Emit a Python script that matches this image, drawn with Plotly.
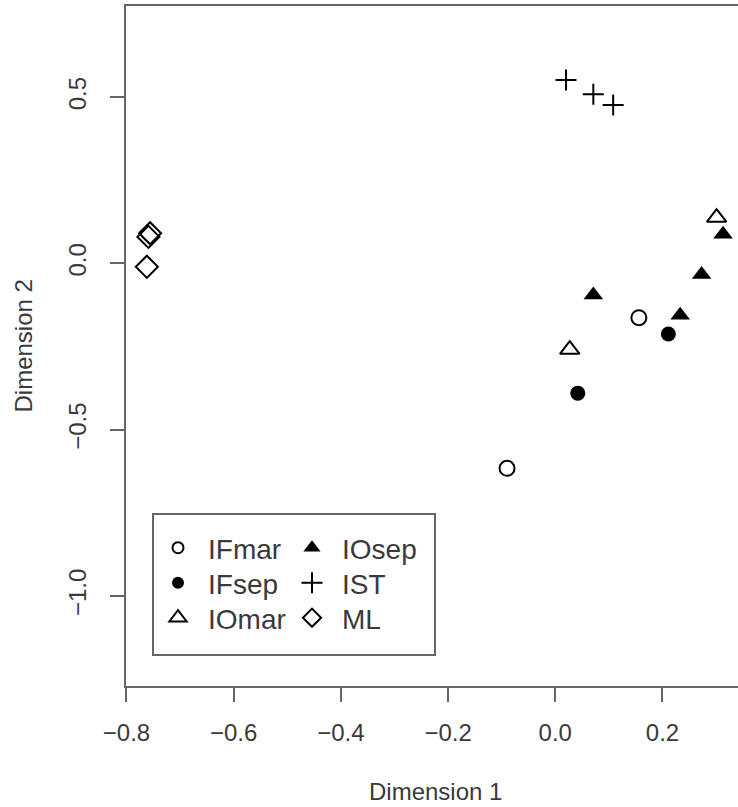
import plotly.graph_objects as go

# MDS ordination coordinates per group
groups = ["IFmar", "IFsep", "IOmar", "IOsep", "IST", "ML"]

ifmar_x = [0.156, -0.090]
ifmar_y = [-0.163, -0.616]

ifsep_x = [0.211, 0.042]
ifsep_y = [-0.212, -0.390]

iomar_x = [0.301, 0.027]
iomar_y = [0.138, -0.259]

iosep_x = [0.313, 0.273, 0.071, 0.233]
iosep_y = [0.088, -0.033, -0.095, -0.156]

ist_x = [0.020, 0.071, 0.108]
ist_y = [0.552, 0.509, 0.477]

ml_x = [-0.756, -0.759, -0.762]
ml_y = [0.091, 0.080, -0.010]

x_ticks = [-0.8, -0.6, -0.4, -0.2, 0.0, 0.2]
x_ticktext = ["\u22120.8", "\u22120.6", "\u22120.4", "\u22120.2", "0.0", "0.2"]
y_ticks = [0.5, 0.0, -0.5, -1.0]
y_ticktext = ["0.5", "0.0", "\u22120.5", "\u22121.0"]

FONT = "Liberation Sans, Arial, Helvetica, sans-serif"
TEXT = "#3a3a3a"
LINE = "#666666"
OPEN = "#3c3c3c"

styles = {
    "IFmar": dict(symbol="circle-open", size=15, lsize=11, line=dict(color=OPEN, width=2)),
    "IFsep": dict(symbol="circle", size=15, lsize=12, line=dict(color="black", width=0)),
    "IOmar": dict(symbol="triangle-up-open", size=17, lsize=15, line=dict(color=OPEN, width=2)),
    "IOsep": dict(symbol="triangle-up", size=17, lsize=15, line=dict(color="black", width=0)),
    "IST": dict(symbol="cross-thin-open", size=15, lsize=15, line=dict(color=OPEN, width=2)),
    "ML": dict(symbol="diamond-open", size=17, lsize=14, line=dict(color=OPEN, width=2)),
}
data = {
    "IFmar": (ifmar_x, ifmar_y),
    "IFsep": (ifsep_x, ifsep_y),
    "IOmar": (iomar_x, iomar_y),
    "IOsep": (iosep_x, iosep_y),
    "IST": (ist_x, ist_y),
    "ML": (ml_x, ml_y),
}

L, R, T, B = 126, 0, 6, 121
W, H = 738, 807
pw, ph = W - L - R, H - T - B

def px2paper_x(px):
    return (px - L) / pw

def px2paper_y(py):
    return (H - B - py) / ph

# legend grid: 3 rows x 2 columns, one legend per entry
legend_cols = [148, 282]
legend_rows = [523, 558, 593]
legend_names = ["legend", "legend2", "legend3", "legend4", "legend5", "legend6"]

fig = go.Figure()
for g in groups:
    st = styles[g]
    xs, ys = data[g]
    fig.add_trace(go.Scatter(
        x=xs, y=ys, mode="markers", name=g, showlegend=False,
        marker=dict(symbol=st["symbol"], size=st["size"], color="black", line=st["line"]),
        hoverinfo="x+y+name",
    ))

legend_layout = {}
for i, g in enumerate(groups):
    st = styles[g]
    lname = legend_names[i]
    col, row = i // 3, i % 3
    fig.add_trace(go.Scatter(
        x=[None], y=[None], mode="markers", name=g, legend=lname,
        marker=dict(symbol=st["symbol"], size=st["lsize"], color="black", line=st["line"]),
    ))
    legend_layout[lname] = dict(
        orientation="v", bgcolor="rgba(0,0,0,0)", borderwidth=0,
        font=dict(family=FONT, size=28, color=TEXT), itemwidth=50,
        xanchor="left", yanchor="top",
        x=px2paper_x(legend_cols[col]), y=px2paper_y(legend_rows[row]),
    )

fig.update_layout(
    width=W, height=H,
    margin=dict(l=L, r=R, t=T, b=B, pad=0),
    paper_bgcolor="white", plot_bgcolor="white",
    font=dict(family=FONT, size=24, color=TEXT),
    xaxis=dict(
        range=[-0.8009, 0.3409], tickvals=x_ticks, ticktext=x_ticktext,
        showgrid=False, zeroline=False, showline=True, mirror=True,
        linecolor=LINE, linewidth=2, ticks="outside", ticklen=14, tickwidth=2,
        tickcolor=LINE, ticklabelstandoff=10,
        tickfont=dict(family=FONT, size=24, color=TEXT),
    ),
    yaxis=dict(
        range=[-1.2707, 0.7744], tickvals=y_ticks, ticktext=y_ticktext,
        showgrid=False, zeroline=False, showline=True, mirror=False,
        linecolor=LINE, linewidth=2, ticks="outside", ticklen=14, tickwidth=2,
        tickcolor=LINE, tickangle=-90, ticklabelstandoff=14,
        tickfont=dict(family=FONT, size=24, color=TEXT),
    ),
    shapes=[dict(
        type="rect", xref="paper", yref="paper",
        x0=px2paper_x(153), x1=px2paper_x(435),
        y0=px2paper_y(655), y1=px2paper_y(514),
        line=dict(color=LINE, width=2), fillcolor="rgba(0,0,0,0)",
    )],
    annotations=[
        dict(text="Dimension 1", xref="paper", yref="paper",
             x=px2paper_x(435), y=px2paper_y(792), xanchor="center", yanchor="middle",
             showarrow=False, font=dict(family=FONT, size=24, color=TEXT)),
        dict(text="Dimension 2", xref="paper", yref="paper",
             x=px2paper_x(22.5), y=px2paper_y(346), xanchor="center", yanchor="middle",
             textangle=-90, showarrow=False, font=dict(family=FONT, size=24, color=TEXT)),
    ],
    **legend_layout,
)

fig.write_html("out.html")
